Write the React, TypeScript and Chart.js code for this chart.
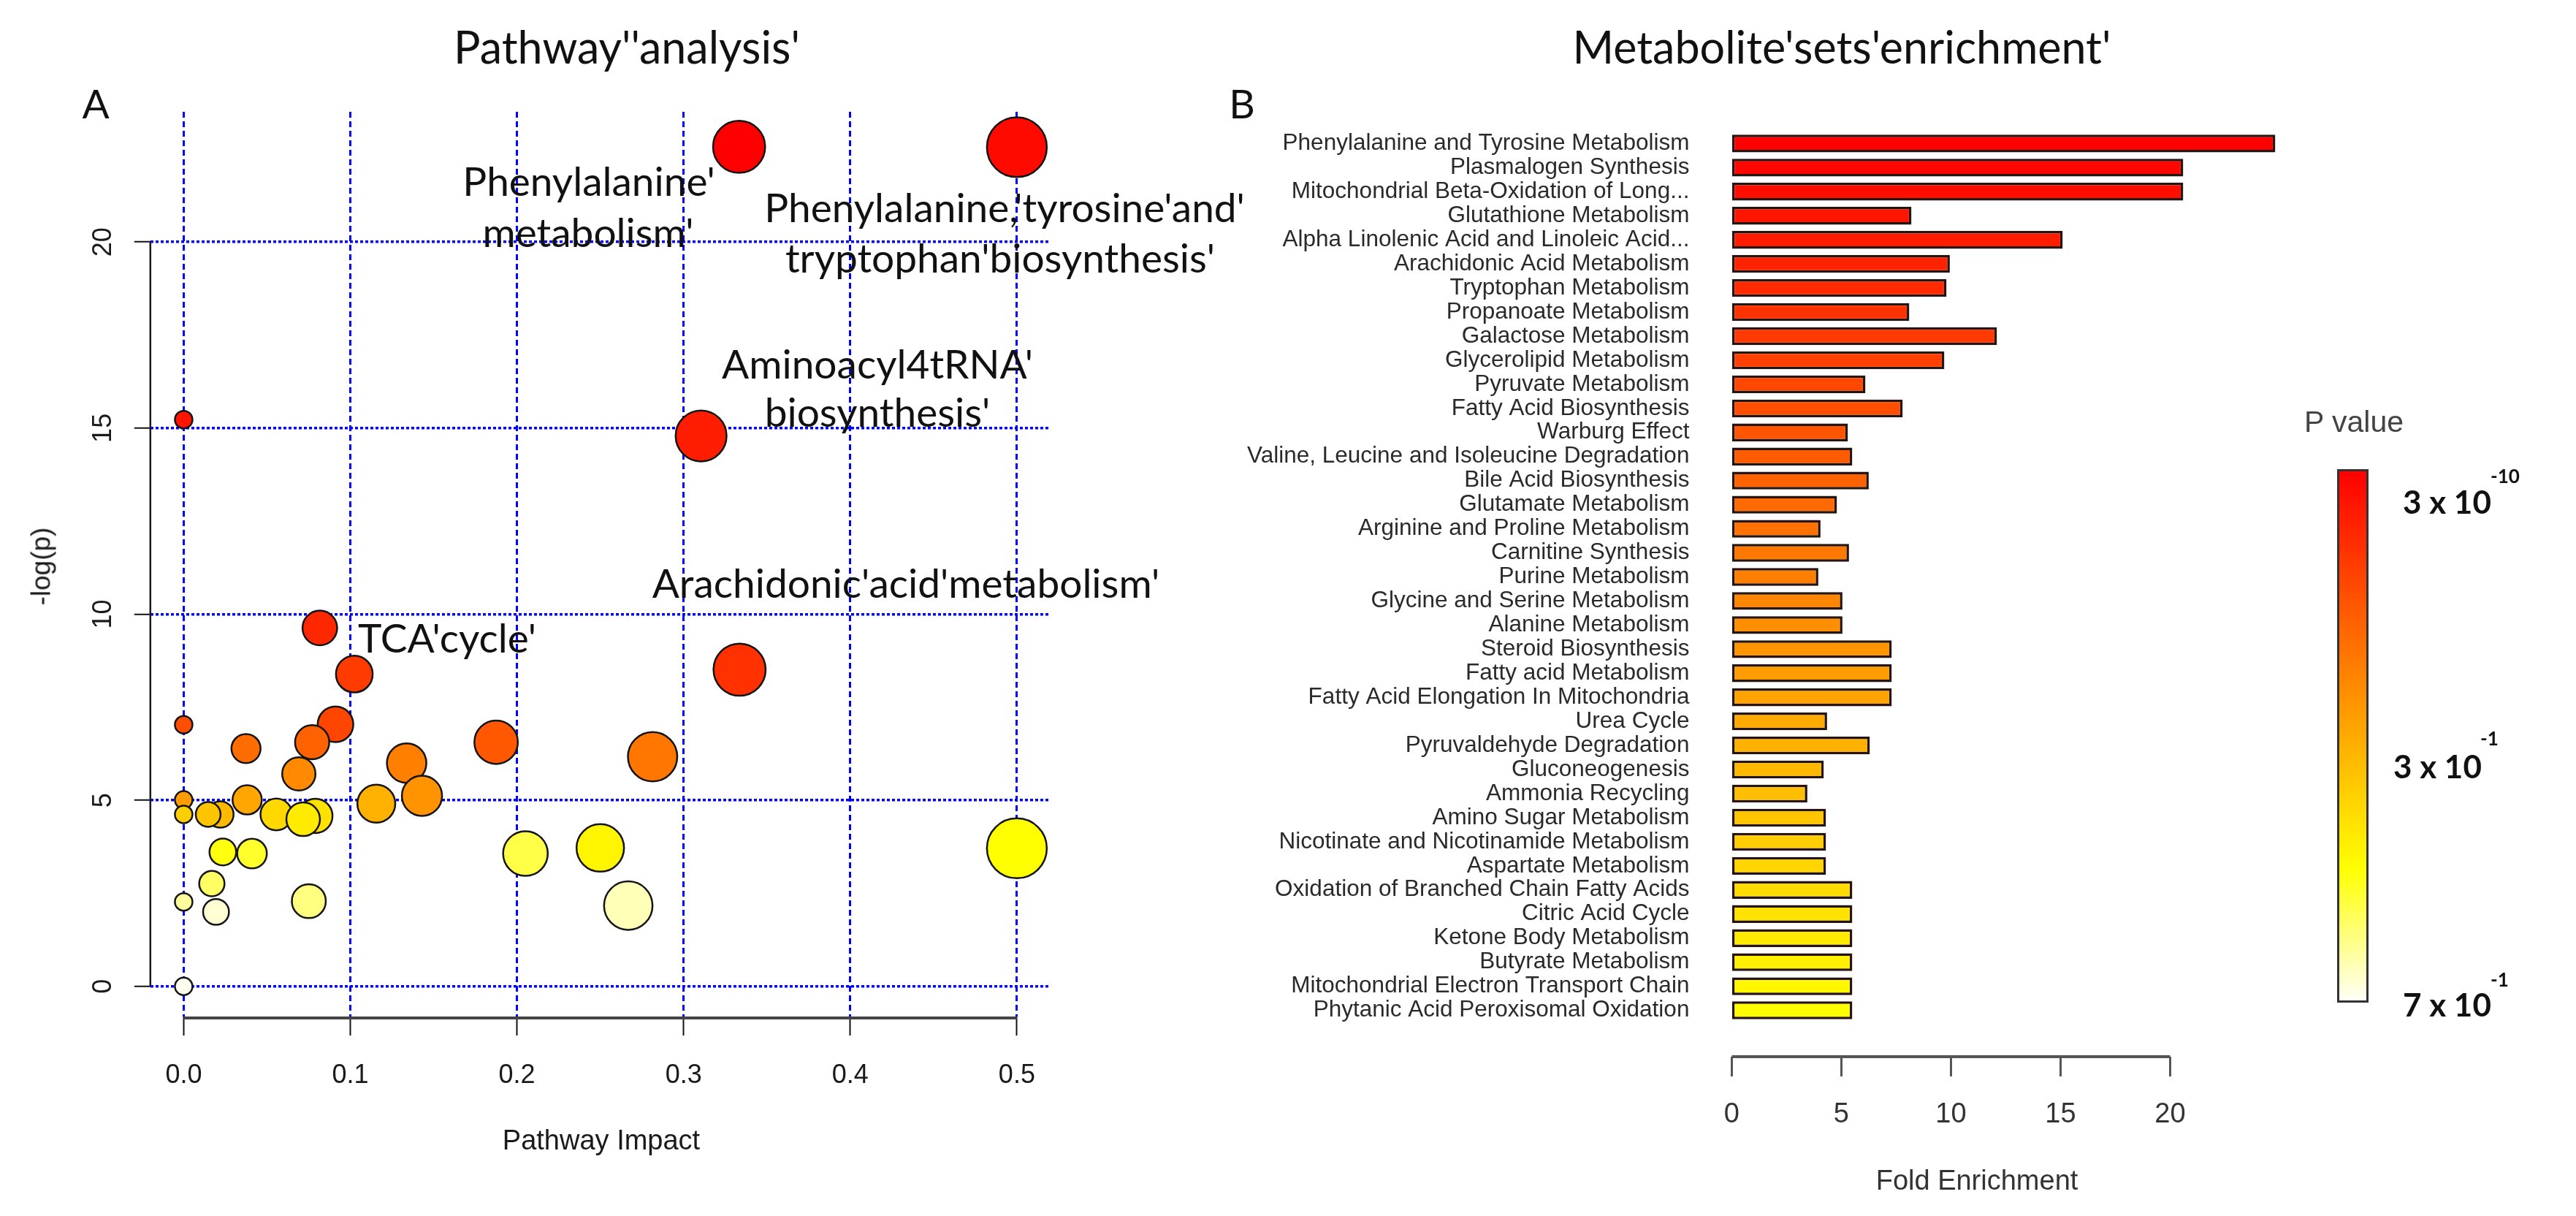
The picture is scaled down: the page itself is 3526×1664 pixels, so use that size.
import React, { useEffect, useRef } from "react";
import { Chart, registerables } from "chart.js";
Chart.register(...registerables);

// ---------------- Panel A : pathway analysis ----------------
const pathwayImpact = [
  0.3333, 0.5, 0.0, 0.3105, 0.0817, 0.3336, 0.1024, 0.0911, 0.0, 0.1875,
  0.0771, 0.0374, 0.2814, 0.1338, 0.0691, 0.143, 0.0, 0.0381, 0.1156, 0.022,
  0.0147, 0.0, 0.0556, 0.079, 0.0717, 0.25, 0.5, 0.0235, 0.041, 0.2051,
  0.0169, 0.0751, 0.0, 0.2668, 0.0194, 0.0,
];
const pathwayLogP = [
  22.56, 22.55, 15.23, 14.79, 9.63, 8.51, 8.39, 7.04, 7.03, 6.56,
  6.56, 6.39, 6.17, 6.0, 5.71, 5.12, 5.01, 5.01, 4.91, 4.62,
  4.62, 4.62, 4.62, 4.58, 4.49, 3.72, 3.71, 3.61, 3.57, 3.57,
  2.76, 2.29, 2.27, 2.17, 2.0, 0.0,
];
const impactTicks = [0, 0.1, 0.2, 0.3, 0.4, 0.5];
const logPTicks = [0, 5, 10, 15, 20];

// ---------------- Panel B : metabolite set enrichment ----------------
const metaboliteSets = [
  "Phenylalanine and Tyrosine Metabolism",
  "Plasmalogen Synthesis",
  "Mitochondrial Beta-Oxidation of Long...",
  "Glutathione Metabolism",
  "Alpha Linolenic Acid and Linoleic Acid...",
  "Arachidonic Acid Metabolism",
  "Tryptophan Metabolism",
  "Propanoate Metabolism",
  "Galactose Metabolism",
  "Glycerolipid Metabolism",
  "Pyruvate Metabolism",
  "Fatty Acid Biosynthesis",
  "Warburg Effect",
  "Valine, Leucine and Isoleucine Degradation",
  "Bile Acid Biosynthesis",
  "Glutamate Metabolism",
  "Arginine and Proline Metabolism",
  "Carnitine Synthesis",
  "Purine Metabolism",
  "Glycine and Serine Metabolism",
  "Alanine Metabolism",
  "Steroid Biosynthesis",
  "Fatty acid Metabolism",
  "Fatty Acid Elongation In Mitochondria",
  "Urea Cycle",
  "Pyruvaldehyde Degradation",
  "Gluconeogenesis",
  "Ammonia Recycling",
  "Amino Sugar Metabolism",
  "Nicotinate and Nicotinamide Metabolism",
  "Aspartate Metabolism",
  "Oxidation of Branched Chain Fatty Acids",
  "Citric Acid Cycle",
  "Ketone Body Metabolism",
  "Butyrate Metabolism",
  "Mitochondrial Electron Transport Chain",
  "Phytanic Acid Peroxisomal Oxidation",
];
const foldEnrichment = [
  24.8, 20.6, 20.6, 8.2, 15.1, 9.95, 9.8, 8.1, 12.1, 9.7,
  6.1, 7.8, 5.3, 5.5, 6.25, 4.8, 4.05, 5.35, 3.95, 5.05,
  5.05, 7.3, 7.3, 7.3, 4.35, 6.3, 4.2, 3.45, 4.3, 4.3,
  4.3, 5.5, 5.5, 5.5, 5.5, 5.5, 5.5,
];
const foldTicks = [0, 5, 10, 15, 20];

// ---------------- colour helpers (R heat.colors) ----------------
function hsv(h: number, s: number, v: number) {
  const h6 = h * 6;
  const i = Math.floor(h6) % 6;
  const f = h6 - Math.floor(h6);
  const p = v * (1 - s), q = v * (1 - f * s), t = v * (1 - (1 - f) * s);
  let r = 0, g = 0, b = 0;
  switch (i) {
    case 0: r = v; g = t; b = p; break;
    case 1: r = q; g = v; b = p; break;
    case 2: r = p; g = v; b = t; break;
    case 3: r = p; g = q; b = v; break;
    case 4: r = t; g = p; b = v; break;
    default: r = v; g = p; b = q;
  }
  return `rgb(${Math.round(r * 255)},${Math.round(g * 255)},${Math.round(b * 255)})`;
}
function heatColors(n: number) {
  const j = Math.floor(n / 4);
  const i = n - j;
  const out: string[] = [];
  for (let k = 0; k < i; k++) out.push(hsv(i > 1 ? (k / (i - 1)) / 6 : 0, 1, 1));
  const s0 = 1 - 1 / (2 * j), s1 = 1 / (2 * j);
  for (let k = 0; k < j; k++) out.push(hsv(1 / 6, j > 1 ? s0 + (s1 - s0) * k / (j - 1) : s0, 1));
  return out;
}
const heat = heatColors(pathwayLogP.length);
const rankOrder = pathwayLogP.map((_, i) => i).sort((a, b) => pathwayLogP[b] - pathwayLogP[a] || a - b);
const pointColors: string[] = new Array(pathwayLogP.length);
rankOrder.forEach((idx, rank) => { pointColors[idx] = heat[rank]; });
const barColors = foldEnrichment.map((_, i) => hsv((i / (foldEnrichment.length - 1)) / 6, 1, 1));

const RADIUS_MIN = 12;
const RADIUS_K = 41;

// R-style axis lines spanning only the tick range
function makeRAxes(lines: { axis: string; from: number; to: number; color: string; width: number; offset?: number }[]) {
  return {
    id: "rAxes",
    afterDraw(chart: any) {
      const { ctx, chartArea } = chart;
      lines.forEach((l) => {
        const sc = chart.scales[l.axis];
        ctx.save();
        ctx.strokeStyle = l.color;
        ctx.lineWidth = l.width;
        ctx.beginPath();
        if (l.axis === "x") {
          const y = chartArea.bottom + (l.offset || 0);
          ctx.moveTo(sc.getPixelForValue(l.from), y);
          ctx.lineTo(sc.getPixelForValue(l.to), y);
        } else {
          const x = chartArea.left - (l.offset || 0);
          ctx.moveTo(x, sc.getPixelForValue(l.from));
          ctx.lineTo(x, sc.getPixelForValue(l.to));
        }
        ctx.stroke();
        ctx.restore();
      });
    },
  };
}

const SANS = "'Liberation Sans', Arial, sans-serif";
const HUM = "Lato, 'Open Sans', sans-serif";

function Txt(props: { x: number; y: number; children: any; style?: any; anchor?: string }) {
  const tr = props.anchor === "left" ? "translate(0,-50%)" : "translate(-50%,-50%)";
  return (
    <div style={{ position: "absolute", left: props.x, top: props.y, transform: tr, whiteSpace: "nowrap", lineHeight: 1, ...props.style }}>
      {props.children}
    </div>
  );
}

export default function App() {
  const aRef = useRef<HTMLCanvasElement>(null);
  const bRef = useRef<HTMLCanvasElement>(null);

  useEffect(() => {
    const chartA = new Chart(aRef.current as HTMLCanvasElement, {
      type: "scatter",
      data: {
        datasets: [
          {
            data: pathwayImpact.map((x, i) => ({ x, y: pathwayLogP[i] })),
            pointBackgroundColor: pointColors,
            pointBorderColor: "#141414",
            pointBorderWidth: 2.5,
            pointRadius: (c: any) => RADIUS_MIN + RADIUS_K * Math.sqrt((c.raw && c.raw.x) || 0),
            pointHoverRadius: (c: any) => RADIUS_MIN + RADIUS_K * Math.sqrt((c.raw && c.raw.x) || 0),
            clip: false as any,
          } as any,
        ],
      },
      options: {
        responsive: false,
        animation: false,
        events: [],
        layout: { padding: { left: 0, top: 153, right: 122.5, bottom: 0 } },
        plugins: { legend: { display: false }, tooltip: { enabled: false } },
        scales: {
          x: {
            type: "linear",
            min: -0.02,
            max: 0.52,
            afterBuildTicks: (s: any) => { s.ticks = impactTicks.map((v) => ({ value: v })); },
            afterFit: (s: any) => { s.height = 273; },
            grid: { color: "#0000ff", lineWidth: 3, tickColor: "#111", tickWidth: 2, tickLength: 26, tickBorderDash: [] } as any,
            border: { display: false, dash: [8, 5] },
            ticks: { callback: (v: any) => Number(v).toFixed(1), font: { family: SANS, size: 36 }, color: "#1a1a1a", padding: 33, maxRotation: 0 },
          },
          y: {
            type: "linear",
            min: -0.81,
            max: 23.5,
            afterBuildTicks: (s: any) => { s.ticks = logPTicks.map((v) => ({ value: v })); },
            afterFit: (s: any) => { s.width = 205.8; },
            grid: { color: "#0000ff", lineWidth: 3.5, tickColor: "#111", tickWidth: 2, tickLength: 22, tickBorderDash: [] } as any,
            border: { display: false, dash: [4, 3] },
            ticks: { minRotation: 90, maxRotation: 90, crossAlign: "center", font: { family: SANS, size: 36 }, color: "#1a1a1a", padding: 22 } as any,
          },
        },
      },
      plugins: [
        makeRAxes([
          { axis: "y", from: 0, to: 20, color: "#1a1a1a", width: 2.5 },
          { axis: "x", from: 0, to: 0.5, color: "#444", width: 4, offset: 2 },
        ]) as any,
      ],
    });

    const chartB = new Chart(bRef.current as HTMLCanvasElement, {
      type: "bar",
      data: {
        datasets: [
          {
            data: foldEnrichment.map((v, i) => ({ x: v, y: i })),
            backgroundColor: barColors,
            borderColor: "#261410",
            borderWidth: 3.5,
            borderSkipped: false,
            barPercentage: 0.74,
            categoryPercentage: 1,
          } as any,
        ],
      },
      options: {
        indexAxis: "y",
        responsive: false,
        animation: false,
        events: [],
        layout: { padding: { left: 0, top: 162.6, right: 375.6, bottom: 0 } },
        plugins: { legend: { display: false }, tooltip: { enabled: false } },
        scales: {
          x: {
            type: "linear",
            min: 0,
            max: 26,
            afterBuildTicks: (s: any) => { s.ticks = foldTicks.map((v) => ({ value: v })); },
            afterFit: (s: any) => { s.height = 218; },
            grid: { drawOnChartArea: false, drawTicks: true, tickLength: 27, tickColor: "#555", tickWidth: 3 } as any,
            border: { display: false },
            ticks: { font: { family: SANS, size: 38 }, color: "#333", padding: 30, maxRotation: 0 },
          },
          y: {
            type: "linear",
            min: -0.5,
            max: 37.4,
            reverse: true,
            afterBuildTicks: (s: any) => { s.ticks = metaboliteSets.map((_, i) => ({ value: i })); },
            afterFit: (s: any) => { s.width = 810.4; },
            grid: { display: false, drawTicks: false },
            border: { display: false },
            ticks: {
              autoSkip: false,
              callback: (v: any) => metaboliteSets[Math.round(Number(v))],
              font: { family: SANS, size: 31.5 },
              color: "#2a2a2a",
              padding: 58,
            },
          },
        },
      },
      plugins: [makeRAxes([{ axis: "x", from: 0, to: 20, color: "#555", width: 4 }]) as any],
    });

    return () => {
      chartA.destroy();
      chartB.destroy();
    };
  }, []);

  const annStyle = { fontFamily: HUM, fontSize: 55, color: "#111" };
  const supStyle = { fontFamily: HUM, fontWeight: 700, fontSize: 26, color: "#111" };
  const legStyle = { fontFamily: HUM, fontWeight: 700, fontSize: 44, color: "#111" };

  return (
    <div style={{ position: "absolute", left: 0, top: 0, width: 3526, height: 1664, background: "#fff", overflow: "hidden" }}>
      <canvas ref={aRef} width={1560} height={1664} style={{ position: "absolute", left: 0, top: 0, width: 1560, height: 1664 }} />
      <canvas ref={bRef} width={1966} height={1664} style={{ position: "absolute", left: 1560, top: 0, width: 1966, height: 1664 }} />

      {/* titles */}
      <Txt x={858} y={63} style={{ fontFamily: HUM, fontSize: 61, color: "#111" }}>Pathway''analysis'</Txt>
      <Txt x={2521} y={63} style={{ fontFamily: HUM, fontSize: 61, color: "#111" }}>Metabolite'sets'enrichment'</Txt>
      <Txt x={131} y={141} style={{ fontFamily: HUM, fontSize: 55, color: "#111" }}>A</Txt>
      <Txt x={1700} y={141} style={{ fontFamily: HUM, fontSize: 55, color: "#111" }}>B</Txt>

      {/* panel A annotations */}
      <Txt x={806} y={247} style={annStyle}>Phenylalanine'</Txt>
      <Txt x={805} y={317} style={annStyle}>metabolism'</Txt>
      <Txt x={1375} y={283} style={annStyle}>Phenylalanine,'tyrosine'and'</Txt>
      <Txt x={1369} y={352} style={annStyle}>tryptophan'biosynthesis'</Txt>
      <Txt x={1201} y={497} style={annStyle}>Aminoacyl4tRNA'</Txt>
      <Txt x={1201} y={563} style={annStyle}>biosynthesis'</Txt>
      <Txt x={1240} y={797} style={annStyle}>Arachidonic'acid'metabolism'</Txt>
      <Txt x={612} y={872} style={annStyle}>TCA'cycle'</Txt>

      {/* panel A axis titles */}
      <div style={{ position: "absolute", left: 56, top: 775, transform: "translate(-50%,-50%) rotate(-90deg)", whiteSpace: "nowrap", lineHeight: 1, fontFamily: SANS, fontSize: 37, color: "#1a1a1a" }}>-log(p)</div>
      <Txt x={823} y={1560} style={{ fontFamily: SANS, fontSize: 38, color: "#1a1a1a" }}>Pathway Impact</Txt>

      {/* panel B axis title */}
      <Txt x={2706} y={1615} style={{ fontFamily: SANS, fontSize: 38, color: "#333" }}>Fold Enrichment</Txt>

      {/* P value colour legend */}
      <Txt x={3222} y={577} style={{ fontFamily: SANS, fontSize: 41, color: "#444" }}>P value</Txt>
      <div
        style={{
          position: "absolute",
          left: 3199,
          top: 642,
          width: 37,
          height: 724,
          border: "3px solid #333",
          background: "linear-gradient(to bottom, #ff0000 0%, #ff5500 25%, #ffaa00 50%, #ffff00 75%, #fffff6 100%)",
        }}
      />
      <Txt x={3289} y={686} anchor="left" style={legStyle}>3 x 10</Txt>
      <Txt x={3409} y={651} anchor="left" style={supStyle}>-10</Txt>
      <Txt x={3276} y={1048} anchor="left" style={legStyle}>3 x 10</Txt>
      <Txt x={3395} y={1010} anchor="left" style={supStyle}>-1</Txt>
      <Txt x={3289} y={1374} anchor="left" style={legStyle}>7 x 10</Txt>
      <Txt x={3409} y={1340} anchor="left" style={supStyle}>-1</Txt>
    </div>
  );
}
